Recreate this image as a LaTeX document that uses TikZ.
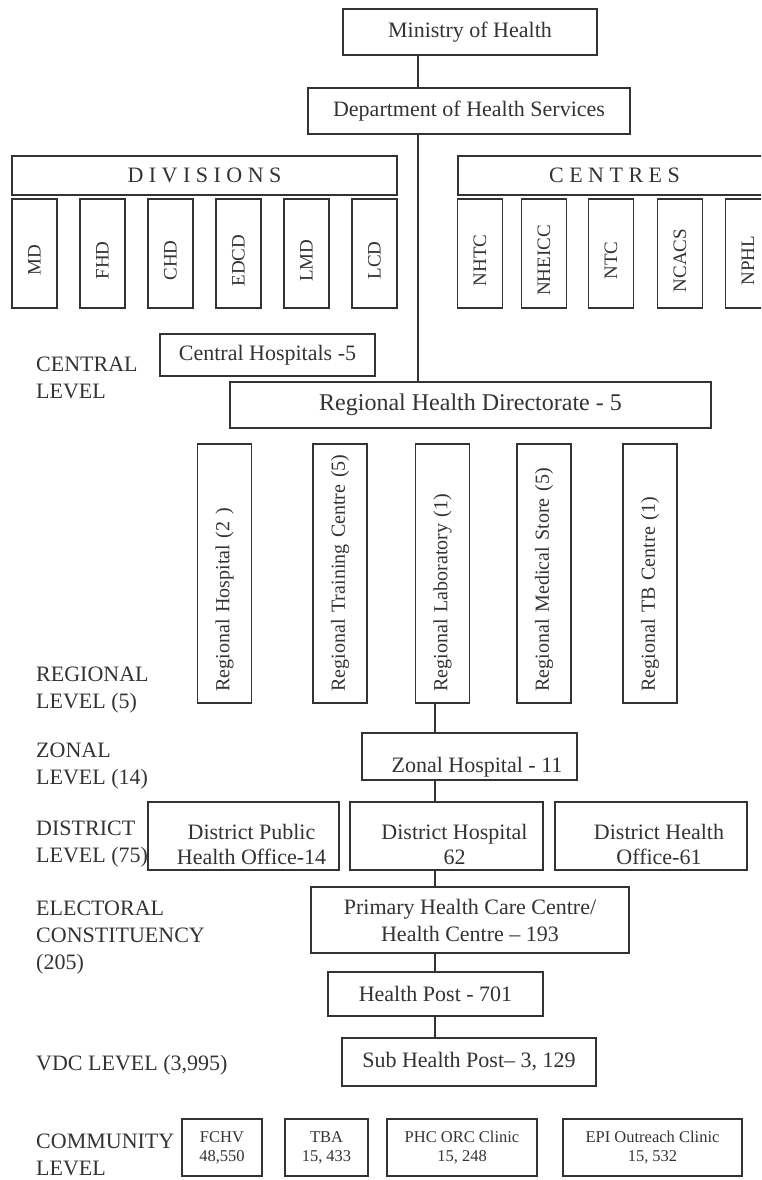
\documentclass[tikz,border=0pt]{standalone}
\usepackage{fontspec}
\setmainfont{Liberation Serif}
\definecolor{ink}{HTML}{333333}

\begin{document}
\begin{tikzpicture}[
    x=1pt, y=-1pt,
    box/.style={draw=ink, line width=1.4pt, fill=white, inner sep=2pt, text=ink, align=center, font=\fontsize{22}{27}\selectfont},
    unit/.style={box, rotate=90, minimum width=109pt, minimum height=45pt, font=\fontsize{19}{22}\selectfont, execute at end node={\rule{14pt}{0pt}}},
    regbox/.style={box, rotate=90, minimum width=259pt, minimum height=54pt, inner xsep=1pt, text width=252pt, align=left, font=\fontsize{20}{24}\selectfont, execute at begin node={\hspace*{8pt}}},
    small/.style={box, minimum height=57pt, font=\fontsize{16.5}{19}\selectfont},
    txt/.style={text=ink, align=center, inner sep=0pt, font=\fontsize{22}{25}\selectfont},
    lvl/.style={anchor=west, align=left, text=ink, inner sep=0pt, font=\fontsize{22}{27}\selectfont},
    edge/.style={draw=ink, line width=1.4pt}
  ]
  \useasboundingbox (0,0) rectangle (761,1180);
  \clip (0,0) rectangle (761,1180);

  % level labels
  \node[lvl] (lcentral) at (36,377.5) {CENTRAL\\LEVEL};
  \node[lvl] (lregional) at (36,690) {REGIONAL\\LEVEL (5)};
  \node[lvl] (lzonal) at (36,766.5) {ZONAL\\LEVEL (14)};
  \node[lvl] (ldistrict) at (36,844.5) {DISTRICT\\LEVEL (75)};
  \node[lvl] (lelectoral) at (36,937.5) {ELECTORAL\\CONSTITUENCY\\(205)};
  \node[lvl] (lvdc) at (36,1065) {VDC LEVEL (3,995)};
  \node[lvl] (lcommunity) at (36,1155) {COMMUNITY\\LEVEL};

  % centre
  \node[box, minimum width=254pt, minimum height=46pt] (moh) at (470,32) {Ministry of Health};
  \node[box, minimum width=322pt, minimum height=46pt] (dhs) at (469,111) {Department of Health Services};

  \node[box, minimum width=385pt, minimum height=39pt] (div) at (204.5,175.5) {D I V I S I O N S};
  \node[unit] (md) at (34.5,253.5) {MD};
  \node[unit] (fhd) at (102.5,253.5) {FHD};
  \node[unit] (chd) at (170.5,253.5) {CHD};
  \node[unit] (edcd) at (238.5,253.5) {EDCD};
  \node[unit] (lmd) at (306.5,253.5) {LMD};
  \node[unit] (lcd) at (374.5,253.5) {LCD};

  \node[box, minimum width=313pt, minimum height=39pt] (cen) at (614.5,175.5) {C E N T R E S};
  \node[unit] (nhtc) at (480,253.5) {NHTC};
  \node[unit] (nheicc) at (544,253.5) {NHEICC};
  \node[unit] (ntc) at (611,253.5) {NTC};
  \node[unit] (ncacs) at (680,253.5) {NCACS};
  \node[unit] (nphl) at (748,253.5) {NPHL};

  \node[box, minimum width=215pt, minimum height=42pt] (chosp) at (267.5,355) {Central Hospitals -5};
  \node[box, minimum width=481pt, minimum height=46pt, font=\fontsize{24}{28}\selectfont] (rhd) at (470.5,405) {Regional Health Directorate - 5};

  % regional
  \node[regbox] (rhosp) at (224.5,573.5) {Regional Hospital (2 )};
  \node[regbox] (rtrain) at (340,573.5) {Regional Training Centre (5)};
  \node[regbox] (rlab) at (442.5,573.5) {Regional Laboratory (1)};
  \node[regbox] (rstore) at (544,573.5) {Regional Medical Store (5)};
  \node[regbox] (rtb) at (650,573.5) {Regional TB Centre (1)};

  % zonal and district
  \node[box, minimum width=215pt, minimum height=47pt] (zonal) at (469.5,756.5) {};
  \node[txt] (zonaltxt) at (477,767) {Zonal Hospital - 11};
  \node[box, minimum width=191pt, minimum height=68pt] (dpho) at (243.5,836) {};
  \node[txt] (dphotxt) at (251.5,844.5) {District Public\\Health Office-14};
  \node[box, minimum width=193pt, minimum height=68pt] (dhosp) at (446.5,836) {};
  \node[txt] (dhosptxt) at (454.5,844.5) {District Hospital\\62};
  \node[box, minimum width=192pt, minimum height=68pt] (dho) at (651,836) {};
  \node[txt] (dhotxt) at (659,844.5) {District Health\\Office-61};

  % below district
  \node[box, minimum width=318pt, minimum height=66pt] (phc) at (470,920) {Primary Health Care Centre/\\Health Centre – 193};
  \node[box, minimum width=215pt, minimum height=44pt] (hp) at (435.5,994) {Health Post - 701};
  \node[box, minimum width=254pt, minimum height=48pt] (shp) at (469,1062) {Sub Health Post– 3, 129};

  % community
  \node[small, minimum width=80pt] (fchv) at (222,1147.5) {FCHV\\48,550};
  \node[small, minimum width=83pt] (tba) at (326.5,1147.5) {TBA\\15, 433};
  \node[small, minimum width=150pt] (orc) at (462,1147.5) {PHC ORC Clinic\\15, 248};
  \node[small, minimum width=179pt] (epi) at (652.5,1147.5) {EPI Outreach Clinic\\15, 532};

  % connectors
  \coordinate (topline) at (418,0);
  \coordinate (lowline) at (435,0);
  \draw[edge] (moh.south -| topline) -- (dhs.north -| topline);
  \draw[edge] (dhs.south -| topline) -- (rhd.north -| topline);
  \draw[edge] (rlab.west -| lowline) -- (zonal.north -| lowline);
  \draw[edge] (zonal.south -| lowline) -- (dhosp.north -| lowline);
  \draw[edge] (dhosp.south -| lowline) -- (phc.north -| lowline);
  \draw[edge] (phc.south -| lowline) -- (hp.north -| lowline);
  \draw[edge] (hp.south -| lowline) -- (shp.north -| lowline);
\end{tikzpicture}
\end{document}
